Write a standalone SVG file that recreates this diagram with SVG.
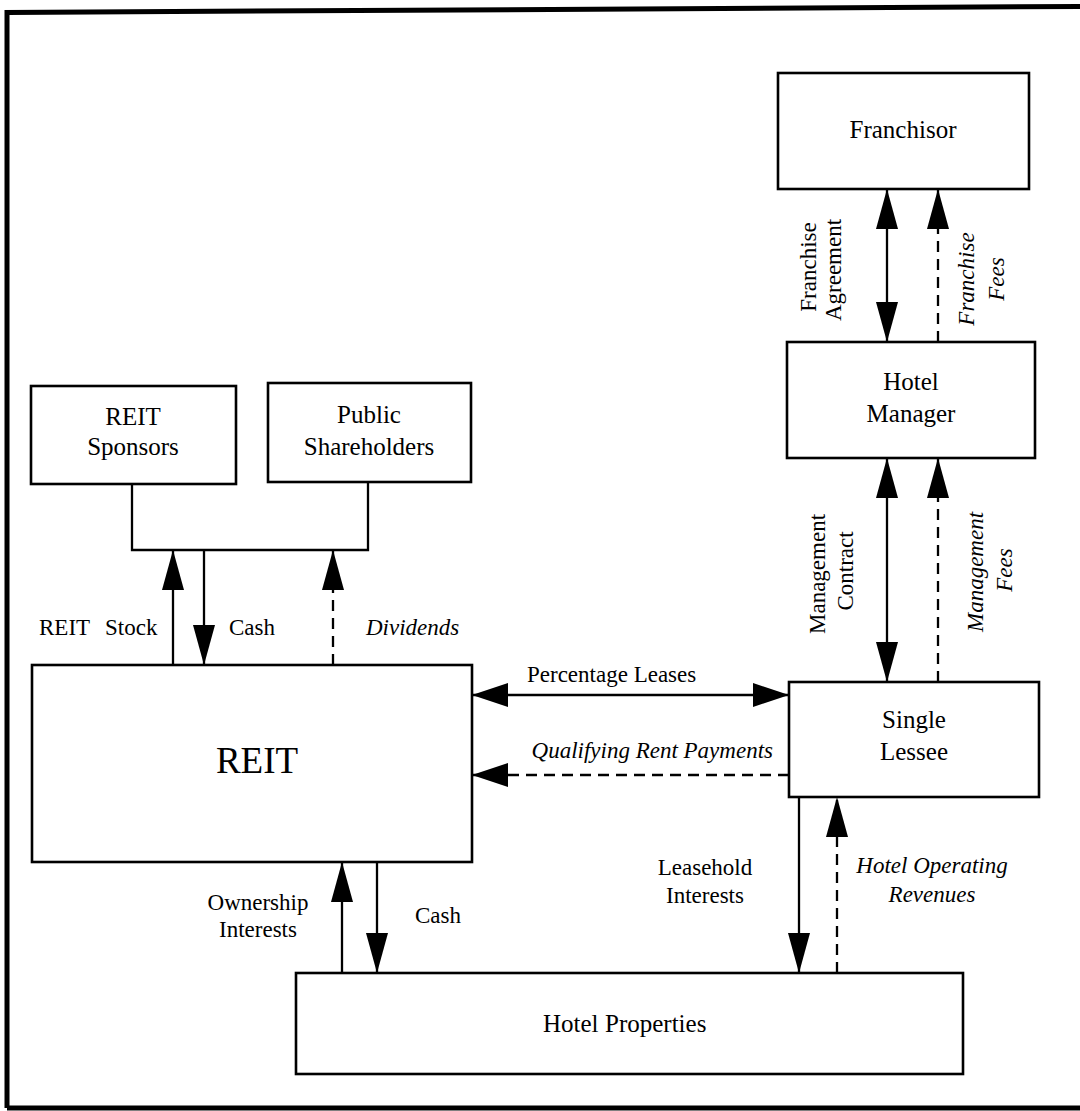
<svg xmlns="http://www.w3.org/2000/svg" width="1080" height="1111" viewBox="0 0 1080 1111">
<style>
  .box { fill: #fff; stroke: #000; stroke-width: 2.6; }
  .t { font-family: "Liberation Serif", "Times New Roman", serif; font-size: 25px; fill: #000; text-anchor: middle; }
  .big { font-size: 37px; }
  .st { text-anchor: start; }
  .lb { font-family: "Liberation Serif", "Times New Roman", serif; font-size: 23px; fill: #000; }
  .it { font-style: italic; }
  .c { text-anchor: middle; }
  .e { text-anchor: end; }
  .ln { fill: none; stroke: #000; stroke-width: 2.3; }
  .dash { stroke-dasharray: 11 7; }
  .head { marker-end: url(#ah); }
  .both { marker-start: url(#ah); marker-end: url(#ah); }
  .bothS { marker-start: url(#ahs); marker-end: url(#ahs); }
  .headS { marker-end: url(#ahs); }
</style>
<defs>
  <marker id="ah" viewBox="0 0 40 22" refX="40" refY="11" markerWidth="40" markerHeight="22" markerUnits="userSpaceOnUse" orient="auto-start-reverse">
    <path d="M0,0 L40,11 L0,22 z" fill="#000"/>
  </marker>
  <marker id="ahs" viewBox="0 0 36 24" refX="36" refY="12" markerWidth="36" markerHeight="24" markerUnits="userSpaceOnUse" orient="auto-start-reverse">
    <path d="M0,0 L36,12 L0,24 z" fill="#000"/>
  </marker>
</defs>
<rect width="1080" height="1111" fill="#fff"/>
<g id="frame" fill="none" stroke="#000" stroke-width="5">
  <path d="M7,1108 L7,12.5 L1080,6.5"/>
  <path d="M7,1108 L1080,1108"/>
</g>

<g id="connectors">
  <polyline class="ln" points="132,484 132,550 368,550 368,482"/>
  <line class="ln head" x1="173" y1="665" x2="173" y2="550"/>
  <line class="ln head" x1="204" y1="550" x2="204" y2="665"/>
  <line class="ln dash head" x1="333" y1="665" x2="333" y2="550"/>
  <line class="ln bothS" x1="472" y1="695" x2="789" y2="695"/>
  <line class="ln dash headS" x1="789" y1="775" x2="472" y2="775"/>
  <line class="ln both" x1="887" y1="189" x2="887" y2="342"/>
  <line class="ln dash head" x1="938" y1="342" x2="938" y2="189"/>
  <line class="ln both" x1="887" y1="458" x2="887" y2="682"/>
  <line class="ln dash head" x1="938" y1="682" x2="938" y2="458"/>
  <line class="ln head" x1="799" y1="797" x2="799" y2="973"/>
  <line class="ln dash head" x1="837" y1="973" x2="837" y2="797"/>
  <line class="ln head" x1="342" y1="973" x2="342" y2="862"/>
  <line class="ln head" x1="377" y1="862" x2="377" y2="973"/>
</g>

<g id="labels">
  <text class="lb" y="635"><tspan x="39">REIT</tspan><tspan x="105">Stock</tspan></text>
  <text class="lb" x="229" y="635">Cash</text>
  <text class="lb it" x="366" y="635">Dividends</text>
  <text class="lb" x="527" y="682">Percentage Leases</text>
  <text class="lb it e" x="773" y="758">Qualifying Rent Payments</text>
  <text class="lb c" transform="translate(816,267) rotate(-90)">Franchise</text>
  <text class="lb c" transform="translate(841,270) rotate(-90)">Agreement</text>
  <text class="lb it c" transform="translate(974,279) rotate(-90)">Franchise</text>
  <text class="lb it c" transform="translate(1004,279) rotate(-90)">Fees</text>
  <text class="lb c" transform="translate(825,574) rotate(-90)">Management</text>
  <text class="lb c" transform="translate(853,571) rotate(-90)">Contract</text>
  <text class="lb it c" transform="translate(983,572) rotate(-90)">Management</text>
  <text class="lb it c" transform="translate(1012,570) rotate(-90)">Fees</text>
  <text class="lb c" x="705" y="875">Leasehold</text>
  <text class="lb c" x="705" y="903">Interests</text>
  <text class="lb it c" x="932" y="873">Hotel Operating</text>
  <text class="lb it c" x="932" y="902">Revenues</text>
  <text class="lb c" x="258" y="910">Ownership</text>
  <text class="lb c" x="258" y="937">Interests</text>
  <text class="lb" x="415" y="923">Cash</text>
</g>

<g id="franchisor">
  <rect class="box" x="778" y="73" width="251" height="116"/>
  <text class="t" x="903" y="138">Franchisor</text>
</g>
<g id="hotel-manager">
  <rect class="box" x="787" y="342" width="248" height="116"/>
  <text class="t" x="911" y="390">Hotel</text>
  <text class="t" x="911" y="422">Manager</text>
</g>
<g id="single-lessee">
  <rect class="box" x="789" y="682" width="250" height="115"/>
  <text class="t" x="914" y="728">Single</text>
  <text class="t" x="914" y="760">Lessee</text>
</g>
<g id="reit-sponsors">
  <rect class="box" x="31" y="386" width="205" height="98"/>
  <text class="t" x="133" y="425">REIT</text>
  <text class="t" x="133" y="455">Sponsors</text>
</g>
<g id="public-shareholders">
  <rect class="box" x="268" y="383" width="203" height="99"/>
  <text class="t" x="369" y="423">Public</text>
  <text class="t" x="369" y="455">Shareholders</text>
</g>
<g id="reit">
  <rect class="box" x="32" y="665" width="440" height="197"/>
  <text class="t big" x="257" y="773">REIT</text>
</g>
<g id="hotel-properties">
  <rect class="box" x="296" y="973" width="667" height="101"/>
  <text class="t st" y="1032"><tspan x="543">Hotel</tspan><tspan x="605">Properties</tspan></text>
</g>
</svg>
